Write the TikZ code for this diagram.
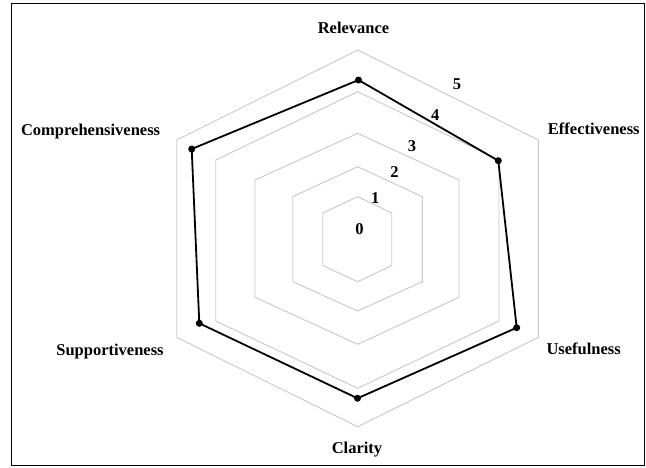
\documentclass[tikz,border=0pt]{standalone}
\usepackage{fontspec}
\setmainfont{Liberation Serif}
\begin{document}
\begin{tikzpicture}[x=1pt,y=-1pt,
  ring/.style={draw=black!22,line width=0.9pt},
  dataline/.style={draw=black,line width=1.8pt,line join=round},
  datadot/.style={circle,fill=black,inner sep=0pt,minimum size=7pt},
  axislabel/.style={anchor=base,inner sep=0pt,font=\fontsize{16.5}{18}\selectfont\bfseries},
  ticklabel/.style={anchor=base,inner sep=0pt,font=\fontsize{16.5}{18}\selectfont\bfseries}]
\useasboundingbox (0,0) rectangle (646,467);
\draw[line width=1.4pt] (11.5,3.5) rectangle (644.5,465.5);
% rings
\draw[ring] (357.7,50) -- (538.3,140) -- (538.3,337.3) -- (357.7,426.7) -- (176.7,337.3) -- (176.7,140) -- cycle;
\draw[ring] (357.7,91.7) -- (499,160) -- (499,321) -- (357.7,388.3) -- (215.7,321) -- (215.7,160) -- cycle;
\draw[ring] (357.7,133.3) -- (459,180) -- (459,297.3) -- (357.7,344.3) -- (255,297.3) -- (255,180) -- cycle;
\draw[ring] (357.7,166.7) -- (422.3,196.7) -- (422.3,281.7) -- (357.7,311) -- (292.7,281.7) -- (292.7,196.7) -- cycle;
\draw[ring] (357.7,196.7) -- (391.7,213) -- (391.7,265.5) -- (357.7,281.7) -- (322.7,265.5) -- (322.7,213) -- cycle;
% tick labels
\node[ticklabel] (t0) at (359.4,234.3) {0};
\node[ticklabel] (t1) at (375.2,203.3) {1};
\node[ticklabel] (t2) at (394.6,177.7) {2};
\node[ticklabel] (t3) at (411.9,151.7) {3};
\node[ticklabel] (t4) at (435.2,120) {4};
\node[ticklabel] (t5) at (457,89.3) {5};
% data
\coordinate (cRel) at (358.5,80);
\coordinate (cEff) at (498.3,160.7);
\coordinate (cUse) at (516.7,327.7);
\coordinate (cCla) at (357.5,398.3);
\coordinate (cSup) at (199.3,323.3);
\coordinate (cCom) at (191.7,149);
\draw[dataline] (cRel) -- (cEff) -- (cUse) -- (cCla) -- (cSup) -- (cCom) -- cycle;
\foreach \p in {Rel,Eff,Use,Cla,Sup,Com} \node[datadot] (d\p) at (c\p) {};
% axis labels
\node[axislabel] (lRel) at (353.5,33.5) {Relevance};
\node[axislabel] (lEff) at (593.8,134.5) {Effectiveness};
\node[axislabel] (lUse) at (583.7,354) {Usefulness};
\node[axislabel] (lCla) at (357,453.5) {Clarity};
\node[axislabel] (lSup) at (110,355) {Supportiveness};
\node[axislabel] (lCom) at (90.6,135.5) {Comprehensiveness};
\end{tikzpicture}
\end{document}
